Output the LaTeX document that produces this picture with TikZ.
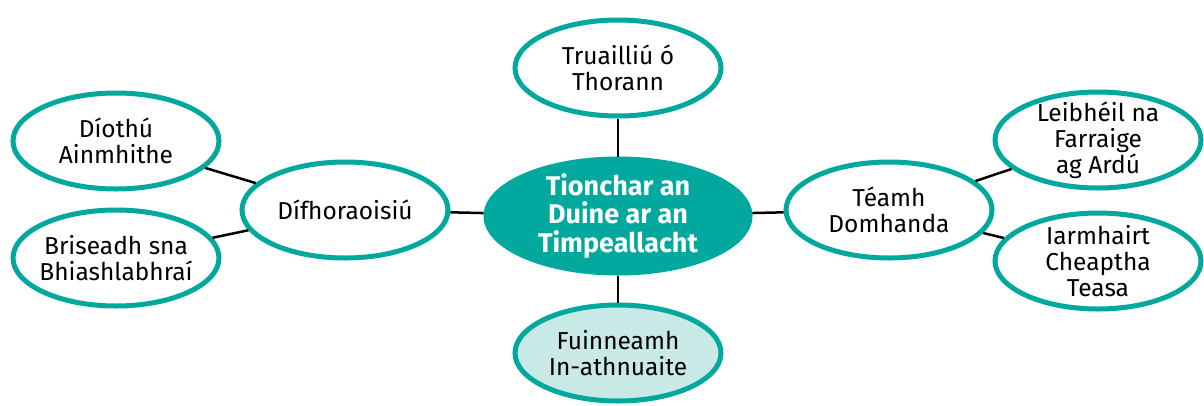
\documentclass[tikz,border=0pt]{standalone}
\usepackage{fontspec}
\setmainfont{Fira Sans}
\usepackage{xcolor}
\usetikzlibrary{shapes.geometric}
\definecolor{teal}{RGB}{0,168,157}
\definecolor{lightteal}{RGB}{201,233,231}

\begin{document}
\begin{tikzpicture}[x=1pt,y=-1pt,
    every node/.style={ellipse,draw=teal,line width=5pt,fill=white,inner sep=-10pt,
      minimum width=206pt,minimum height=96pt,align=center,
      font=\fontsize{24.5}{26}\selectfont},
    hub/.style={fill=teal,text=white,minimum width=264pt,minimum height=114pt,
      font=\fontsize{27}{28.5}\selectfont\bfseries},
    link/.style={line width=2.5pt,black}]
    %
    \useasboundingbox (0,0) rectangle (1204,405);
    %
    \node[hub] (hub) at (618,216) {Tionchar an\\Duine ar an\\Timpeallacht};
    \node (noise) at (618,68) {Truailliú ó\\Thorann};
    \node[fill=lightteal] (energy) at (618,353) {Fuinneamh\\In-athnuaite};
    \node (forest) at (345,210) {Dífhoraoisiú};
    \node (warm) at (889,210) {Téamh\\Domhanda};

    \node (animals) at (116,141) {Díothú\\Ainmhithe};
    \node (food) at (116,258) {Briseadh sna\\Bhiashlabhraí};
    \node (sea) at (1098,140) {Leibhéil na\\Farraige\\ag Ardú};
    \node (green) at (1098,261) {Iarmhairt\\Cheaptha\\Teasa};
    %
    \draw[link] (hub) edge (noise);
    \draw[link] (hub) edge (energy);
    \draw[link] (hub) edge (forest);
    \draw[link] (hub) edge (warm);

    \draw[link] (forest) edge (animals);
    \draw[link] (forest) edge (food);
    \draw[link] (warm) edge (sea);
    \draw[link] (warm) edge (green);
    %
\end{tikzpicture}
\end{document}
